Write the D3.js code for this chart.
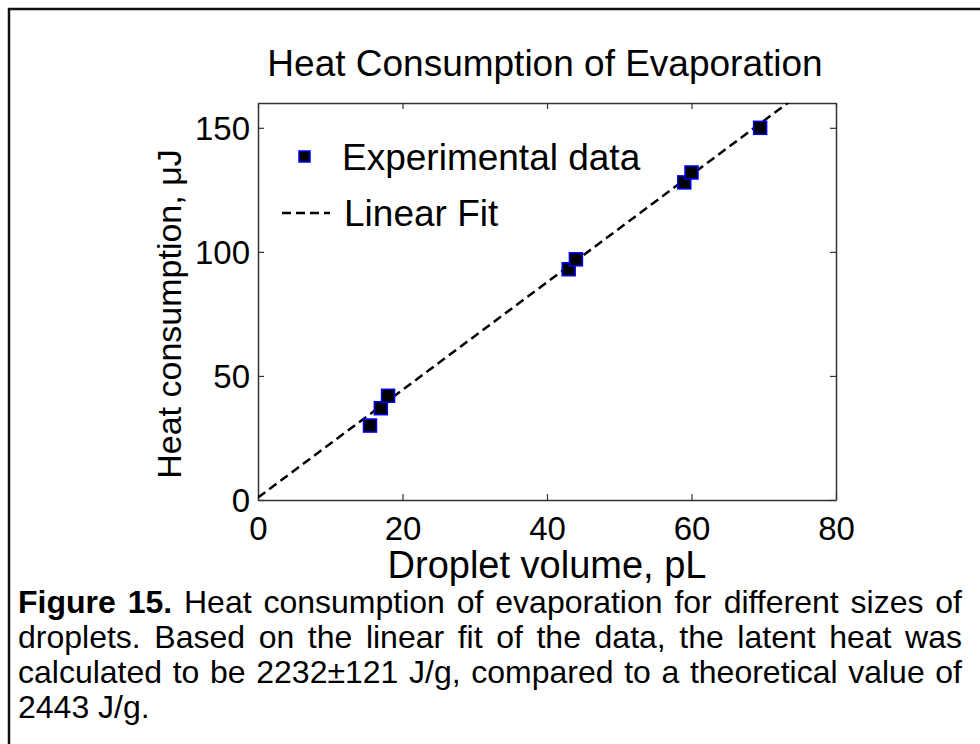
<!DOCTYPE html>
<html lang="en">
	<head>
		<meta charset="utf-8">
		<title>Heat Consumption of Evaporation</title>
		<script type="text/javascript" src="https://cdn.jsdelivr.net/npm/d3@7"></script>
		<style type="text/css">
			body { margin: 0; background: #fff; }
			svg { position: absolute; left: 0; top: 0; }
			.caption {
				position: absolute;
				left: 18px;
				top: 585px;
				width: 944px;
				font-family: "Liberation Sans", Arial, sans-serif;
				font-size: 32px;
				line-height: 35px;
				text-align: justify;
				color: #000;
			}
		</style>
	</head>
	<body>
		<script type="text/javascript">

			//Data
			var volume = [15.5, 17, 18, 43, 44, 59, 60, 69.5];
			var heat = [30, 37, 42, 93, 97, 128, 132, 150];

			//Linear fit end points
			var fitVolume = [0, 80];
			var fitHeat = [1, 174.5];

			var xTicks = [0, 20, 40, 60, 80];
			var yTicks = [0, 50, 100, 150];

			//Width and height
			var w = 980;
			var h = 744;
			var pLeft = 258, pRight = 836, pTop = 103, pBottom = 500;
			var font = "'Liberation Sans', Arial, sans-serif";

			var xScale = d3.scaleLinear()
							.domain([0, 80])
							.range([pLeft, pRight]);

			var yScale = d3.scaleLinear()
							.domain([0, 160])
							.range([pBottom, pTop]);

			//Create SVG element
			var svg = d3.select("body")
						.append("svg")
						.attr("width", w)
						.attr("height", h);

			//Outer frame
			svg.append("rect")
			   .attr("x", 9)
			   .attr("y", 9)
			   .attr("width", 1000)
			   .attr("height", 1000)
			   .attr("fill", "none")
			   .attr("stroke", "#111")
			   .attr("stroke-width", 2.5);

			//Title
			svg.append("text")
			   .attr("x", 545)
			   .attr("y", 76)
			   .attr("text-anchor", "middle")
			   .attr("font-family", font)
			   .attr("font-size", "37px")
			   .text("Heat Consumption of Evaporation");

			svg.append("clipPath")
			   .attr("id", "plotclip")
			   .append("rect")
			   .attr("x", pLeft)
			   .attr("y", pTop)
			   .attr("width", pRight - pLeft)
			   .attr("height", pBottom - pTop);

			//Axes: bottom, left, plus mirrored top and right without labels
			var xAxis = d3.axisBottom(xScale).tickValues(xTicks).tickSizeInner(-6).tickSizeOuter(0).tickPadding(17);
			var yAxis = d3.axisLeft(yScale).tickValues(yTicks).tickSizeInner(-6).tickSizeOuter(0).tickPadding(8);

			var gx = svg.append("g")
						.attr("transform", "translate(0," + pBottom + ")")
						.call(xAxis);
			var gy = svg.append("g")
						.attr("transform", "translate(" + pLeft + ",0)")
						.call(yAxis);
			svg.append("g")
			   .attr("transform", "translate(0," + pTop + ")")
			   .call(d3.axisTop(xScale).tickValues(xTicks).tickSizeInner(-6).tickSizeOuter(0).tickFormat(""));
			svg.append("g")
			   .attr("transform", "translate(" + pRight + ",0)")
			   .call(d3.axisRight(yScale).tickValues(yTicks).tickSizeInner(-6).tickSizeOuter(0).tickFormat(""));

			svg.selectAll(".domain").attr("stroke", "#333").attr("stroke-width", 1.5);
			svg.selectAll(".tick line").attr("stroke", "#333").attr("stroke-width", 1.2);
			svg.selectAll(".tick text")
			   .attr("font-family", font)
			   .attr("font-size", "33px")
			   .attr("fill", "#000");
			gx.selectAll(".tick text").attr("dy", "0.71em");
			gy.selectAll(".tick text").attr("dy", "0.36em");

			//Axis labels
			svg.append("text")
			   .attr("x", 547)
			   .attr("y", 578)
			   .attr("text-anchor", "middle")
			   .attr("font-family", font)
			   .attr("font-size", "38px")
			   .text("Droplet volume, pL");

			svg.append("text")
			   .attr("transform", "translate(181,314) rotate(-90)")
			   .attr("text-anchor", "middle")
			   .attr("font-family", font)
			   .attr("font-size", "34px")
			   .text("Heat consumption, \u03bcJ");

			//Linear fit
			var line = d3.line()
						 .x(function(d) { return xScale(d[0]); })
						 .y(function(d) { return yScale(d[1]); });

			svg.append("path")
			   .datum(d3.zip(fitVolume, fitHeat))
			   .attr("clip-path", "url(#plotclip)")
			   .attr("d", line)
			   .attr("fill", "none")
			   .attr("stroke", "#000")
			   .attr("stroke-width", 2.5)
			   .attr("stroke-dasharray", "9,5");

			//Experimental points
			var size = 13;
			svg.selectAll("rect.pt")
			   .data(d3.zip(volume, heat))
			   .enter()
			   .append("rect")
			   .attr("class", "pt")
			   .attr("x", function(d) { return xScale(d[0]) - size / 2; })
			   .attr("y", function(d) { return yScale(d[1]) - size / 2; })
			   .attr("width", size)
			   .attr("height", size)
			   .attr("fill", "#000")
			   .attr("stroke", "#0000ff")
			   .attr("stroke-width", 1.5);

			//Legend
			svg.append("rect")
			   .attr("x", 299)
			   .attr("y", 151)
			   .attr("width", 11)
			   .attr("height", 11)
			   .attr("fill", "#000")
			   .attr("stroke", "#0000ff")
			   .attr("stroke-width", 1.5);
			svg.append("text")
			   .attr("x", 342)
			   .attr("y", 170)
			   .attr("font-family", font)
			   .attr("font-size", "37px")
			   .text("Experimental data");

			svg.append("line")
			   .attr("x1", 282)
			   .attr("x2", 330)
			   .attr("y1", 213)
			   .attr("y2", 213)
			   .attr("stroke", "#000")
			   .attr("stroke-width", 2.5)
			   .attr("stroke-dasharray", "9,5");
			svg.append("text")
			   .attr("x", 344)
			   .attr("y", 226)
			   .attr("font-family", font)
			   .attr("font-size", "37px")
			   .text("Linear Fit");

			//Caption
			var cap = d3.select("body").append("div").attr("class", "caption");
			cap.append("b").text("Figure 15.");
			cap.append("span").text(" Heat consumption of evaporation for different sizes of droplets. Based on the linear fit of the data, the latent heat was calculated to be 2232\u00b1121 J/g, compared to a theoretical value of 2443 J/g.");

		</script>
	</body>
</html>
